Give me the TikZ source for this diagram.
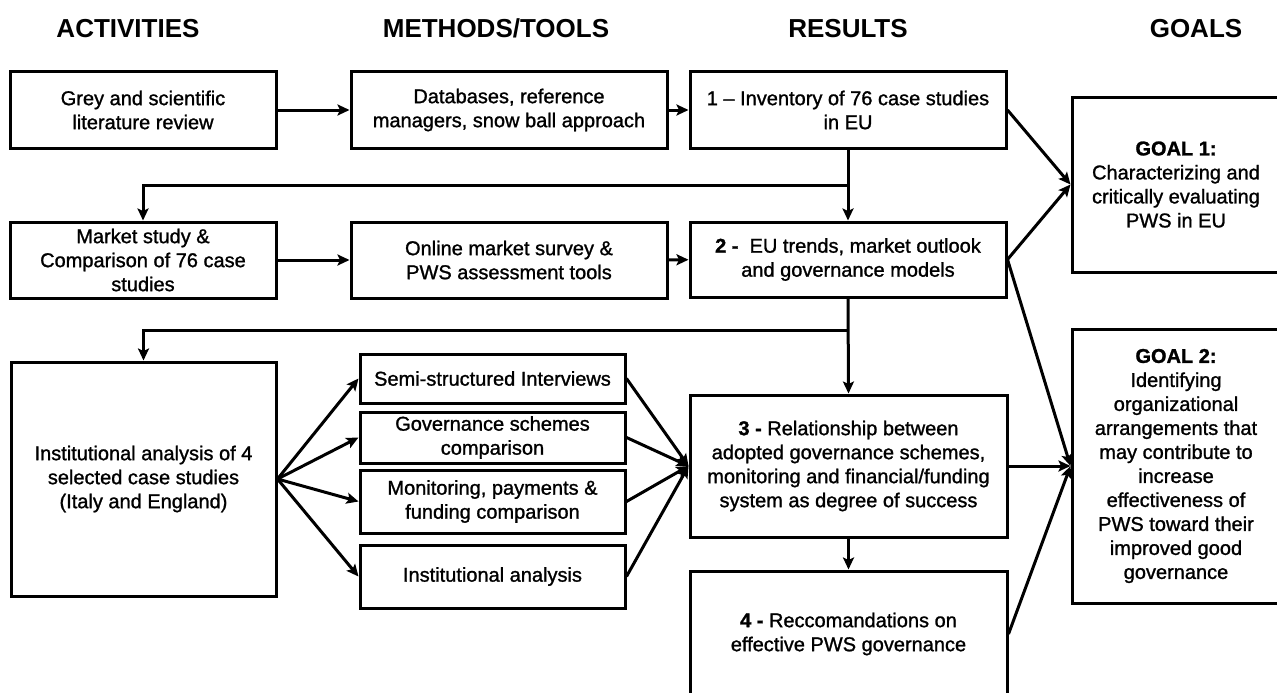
\documentclass[tikz,border=0pt]{standalone}
\usepackage{fontspec}
\setmainfont{Liberation Sans}
\newfontfamily\bodyfont{Liberation Sans}[FakeBold=1.2,Ligatures=TeX]
\usetikzlibrary{arrows.meta,calc}
\begin{document}
\begin{tikzpicture}[x=1pt,y=-1pt,
  box/.style={draw=black,line width=3pt,align=center,inner sep=2pt,
    font=\bodyfont\fontsize{20pt}{24pt}\selectfont},
  hdr/.style={font=\fontsize{26pt}{30pt}\selectfont\bfseries,anchor=base,inner sep=0pt},
  arr/.style={line width=3pt,-{Stealth[length=12pt,width=11pt,inset=2.5pt]}},
  ln/.style={line width=3pt}]
\clip (0,0) rectangle (1277,693);
\fill[white] (0,0) rectangle (1277,693);

% headers
\node[hdr] (h1) at (128,38) {ACTIVITIES};
\node[hdr] (h2) at (496,38) {METHODS/TOOLS};
\node[hdr] (h3) at (848,38) {RESULTS};
\node[hdr] (h4) at (1196,38) {GOALS};

% row 1
\node[box,minimum width=266pt,minimum height=76pt] (a1) at (143,110) {Grey and scientific\\literature review};
\node[box,minimum width=316pt,minimum height=76pt] (m1) at (509,110) {Databases, reference\\managers, snow ball approach};
\node[box,minimum width=316pt,minimum height=76pt] (r1) at (848,110) {1 – Inventory of 76 case studies\\in EU};

% row 2
\node[box,minimum width=266pt,minimum height=76pt] (a2) at (143,260) {Market study \&\\Comparison of 76 case\\studies};
\node[box,minimum width=316pt,minimum height=76pt] (m2) at (509,260) {Online market survey \&\\PWS assessment tools};
\node[box,minimum width=316pt,minimum height=75pt] (r2) at (848,259.5) {\textbf{2 -}~ EU trends, market outlook\\and governance models};

% goals
\node[box,minimum width=208pt,minimum height=175pt] (g1) at (1176,184.5) {\textbf{GOAL 1:}\\Characterizing and\\critically evaluating\\PWS in EU};
\node[box,minimum width=208pt,minimum height=274pt] (g2) at (1176,466) {\textbf{GOAL 2:}\\Identifying\\organizational\\arrangements that\\may contribute to\\increase\\effectiveness of\\PWS toward their\\improved good\\governance};

% row 3
\node[box,minimum width=265pt,minimum height=234pt] (a3) at (143.5,479) {Institutional analysis of 4\\selected case studies\\(Italy and England)};
\node[box,minimum width=265pt,minimum height=49pt] (m3a) at (492.5,378.5) {Semi-structured Interviews};
\node[box,minimum width=265pt,minimum height=51pt] (m3b) at (492.5,437.5) {Governance schemes\\comparison};
\node[box,minimum width=265pt,minimum height=63pt] (m3c) at (492.5,501.5) {Monitoring, payments \&\\funding comparison};
\node[box,minimum width=265pt,minimum height=63pt] (m3d) at (492.5,576.5) {Institutional analysis};
\node[box,minimum width=317pt,minimum height=142pt] (r3) at (848.5,466) {\textbf{3 -} Relationship between\\adopted governance schemes,\\monitoring and financial/funding\\system as degree of success};
\node[box,minimum width=317pt,minimum height=126pt] (r4) at (848.5,634) {\textbf{4 -} Reccomandations on\\effective PWS governance};

% horizontal flow
\draw[arr] (a1) -- (m1);
\draw[arr] (m1) -- (r1);
\draw[arr] (a2) -- (m2);
\draw[arr] (m2) -- (r2);

% vertical flow with branches
\coordinate (j1) at (848,185);
\coordinate (j2) at (848,330);
\draw[arr] (r1.south) -- (r2.north);
\draw[arr] (j1) -| (a2.north);
\draw[arr] (r2.south) -- (r3.north);
\draw[arr] (j2) -| (a3.north);
\draw[arr] (r3.south) -- (r4.north);

% fan out / fan in
\foreach \m in {m3a,m3b,m3c,m3d}{
  \draw[arr] (a3.east) -- (\m.west);
  \draw[arr] (\m.east) -- (r3.west);
}

% to goals
\draw[arr] (r1.east) -- (g1.west);
\draw[arr] (r2.east) -- (g1.west);
\draw[arr] (r2.east) -- (g2.west);
\draw[arr] (r3.east) -- (g2.west);
\draw[arr] (r4.east) -- (g2.west);
\end{tikzpicture}
\end{document}
